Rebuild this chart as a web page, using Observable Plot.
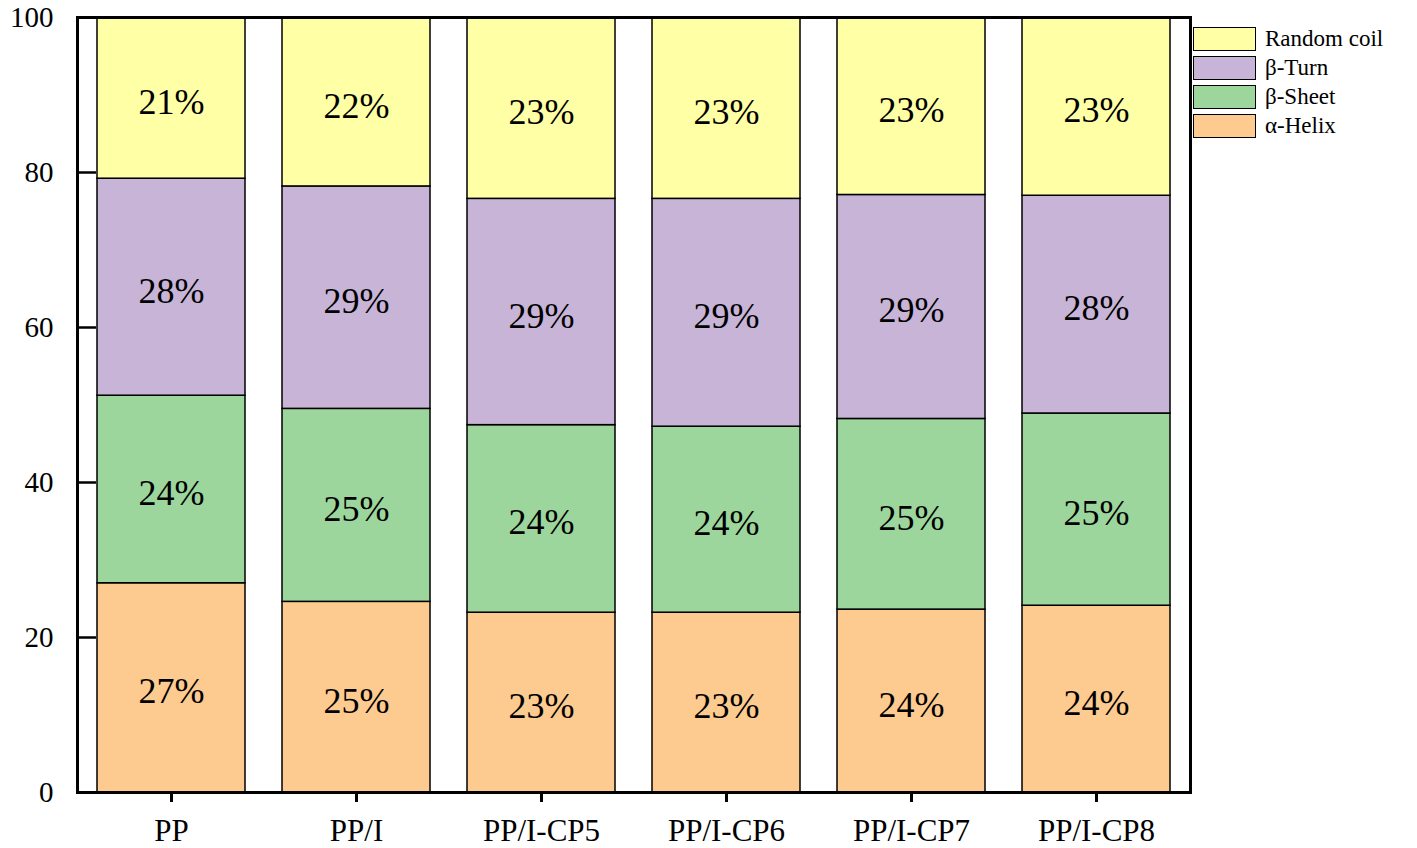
<!DOCTYPE html>
<html>
<head>
<meta charset="utf-8">
<script src="https://cdn.jsdelivr.net/npm/d3@7"></script>
<script src="https://cdn.jsdelivr.net/npm/@observablehq/plot@0.6"></script>
<style>
  html, body { margin: 0; padding: 0; background: #fff; }
  #wrap { position: relative; width: 1417px; height: 848px; }
  #legend { position: absolute; left: 1193px; top: 24px; font-family: "Liberation Serif", "Times New Roman", serif; font-size: 23px; color: #000; }
  .item { display: flex; align-items: center; height: 29px; }
  .sw { width: 63px; height: 24px; border: 1.5px solid #000; margin-right: 9px; box-sizing: border-box; }
  svg text { font-family: "Liberation Serif", "Times New Roman", serif !important; }
</style>
</head>
<body>
<div id="wrap"><div id="legend"></div></div>
<script>
const samples = ["PP", "PP/I", "PP/I-CP5", "PP/I-CP6", "PP/I-CP7", "PP/I-CP8"];
const structures = ["α-Helix", "β-Sheet", "β-Turn", "Random coil"];
const colors = ["#fdca90", "#9dd69c", "#c7b4d7", "#ffffa6"];
const helix = [27.0, 24.6, 23.2, 23.2, 23.6, 24.1];
const sheet = [24.2, 24.9, 24.2, 24.0, 24.6, 24.8];
const turn  = [28.0, 28.7, 29.2, 29.4, 28.9, 28.1];
const coil  = [20.8, 21.8, 23.4, 23.4, 22.9, 23.0];
const yTicks = [0, 20, 40, 60, 80, 100];

const series = [helix, sheet, turn, coil];
const data = [];
samples.forEach((s, i) => {
  series.forEach((arr, j) => {
    data.push({sample: s, structure: structures[j], value: arr[i], order: j});
  });
});

const font = "Liberation Serif, Times New Roman, serif";
const plot = Plot.plot({
  width: 1417,
  height: 848,
  marginLeft: 77,
  marginRight: 227,
  marginTop: 17,
  marginBottom: 56,
  style: {fontFamily: font, background: "#fff", color: "#000"},
  x: {domain: samples, paddingInner: 0.2, paddingOuter: 0.1, label: null},
  y: {domain: [0, 100], label: null},
  color: {domain: structures, range: colors},
  marks: [
    Plot.barY(data, Plot.stackY({
      x: "sample", y: "value", fill: "structure", order: "order",
      stroke: "#000", strokeWidth: 1.5
    })),
    Plot.text(data, Plot.stackY({
      x: "sample", y: "value", order: "order",
      text: d => Math.round(d.value) + "%",
      fontSize: 36, fontFamily: font, fill: "#000", dy: 4
    })),
    Plot.axisY(yTicks, {tickSize: -19, text: null, strokeWidth: 2.5}),
    Plot.axisY(yTicks, {tickSize: 0, tickPadding: 24, fontSize: 29, fontFamily: font}),
    Plot.axisX({tickSize: 10, strokeWidth: 3, tickPadding: 16, fontSize: 31, fontFamily: font}),
    Plot.frame({stroke: "#000", strokeWidth: 3})
  ]
});
document.getElementById("wrap").prepend(plot);

const legend = document.getElementById("legend");
[3, 2, 1, 0].forEach(j => {
  const it = document.createElement("div");
  it.className = "item";
  const sw = document.createElement("div");
  sw.className = "sw";
  sw.style.background = colors[j];
  const t = document.createElement("span");
  t.textContent = structures[j];
  it.appendChild(sw);
  it.appendChild(t);
  legend.appendChild(it);
});
</script>
</body>
</html>
